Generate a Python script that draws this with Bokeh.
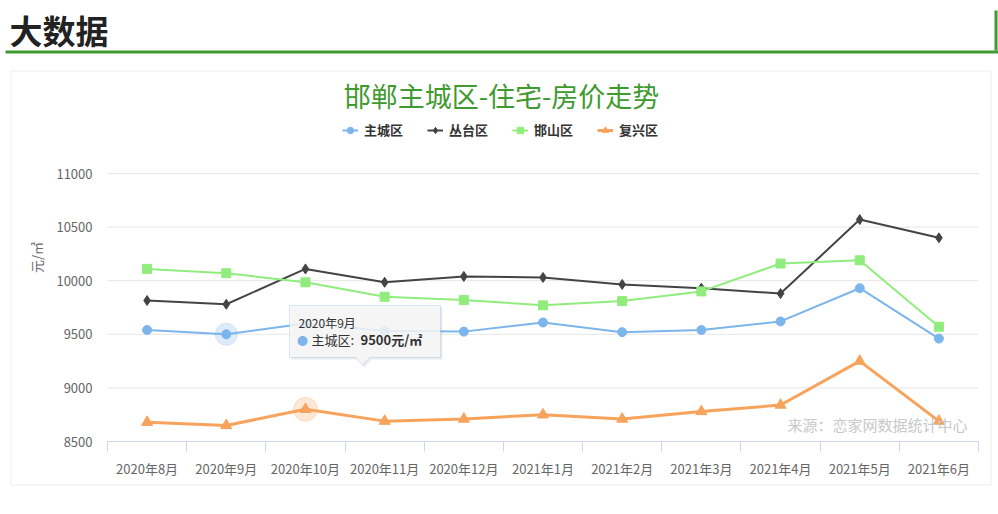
from bokeh.plotting import figure
from bokeh.models import (Range1d, FixedTicker, Label, Legend, LegendItem,
                          BoxAnnotation, PolyAnnotation)
from bokeh.embed import file_html
from bokeh.resources import INLINE

FONT = "Noto Sans CJK SC"

months = ["2020年8月", "2020年9月", "2020年10月", "2020年11月", "2020年12月",
          "2021年1月", "2021年2月", "2021年3月", "2021年4月", "2021年5月", "2021年6月"]
series_names = ["主城区", "丛台区", "邯山区", "复兴区"]
zhucheng = [9540, 9500, 9600, 9530, 9525, 9610, 9520, 9540, 9620, 9930, 9460]
congtai = [9815, 9780, 10110, 9985, 10040, 10030, 9965, 9930, 9880, 10570, 10400]
hanshan = [10110, 10070, 9985, 9850, 9820, 9770, 9810, 9900, 10160, 10190, 9570]
fuxing = [8680, 8650, 8800, 8690, 8710, 8750, 8710, 8780, 8840, 9250, 8690]
y_ticks = [8500, 9000, 9500, 10000, 10500, 11000]
title_text = "邯郸主城区-住宅-房价走势"
header_text = "大数据"
unit_text = "元/㎡"
source_text = "来源：恋家网数据统计中心"

W, H = 998, 514
PL, PR, PT, PB = 107, 978, 173, 441  # plot area edges in page pixels
n = len(months)
xpx = (PR - PL) / n
ypx = (PB - PT) / (y_ticks[-1] - y_ticks[0])

def sx(px):
    return px

def sy(py):
    return H - py

xs = [i + 0.5 for i in range(n)]

p = figure(width=W, height=H,
           x_range=Range1d(-PL / xpx, n + (W - PR) / xpx),
           y_range=Range1d(y_ticks[0] - (H - PB) / ypx, y_ticks[-1] + PT / ypx),
           output_backend="svg", toolbar_location=None,
           min_border_left=0, min_border_right=0, min_border_top=0, min_border_bottom=0)
p.outline_line_color = None
p.background_fill_color = "white"
p.border_fill_color = "white"

# axes (drawn at fixed locations inside the canvas)
xa = p.xaxis[0]
xa.fixed_location = y_ticks[0]
xa.bounds = (0, n)
xa.ticker = FixedTicker(ticks=xs, minor_ticks=list(range(n + 1)))
xa.major_label_overrides = {x: m for x, m in zip(xs, months)}
xa.axis_line_color = "#ccd6eb"
xa.major_tick_line_color = None
xa.major_tick_out = 0
xa.major_tick_in = 0
xa.minor_tick_line_color = "#ccd6eb"
xa.minor_tick_out = 10
xa.minor_tick_in = 0
xa.major_label_text_color = "#666666"
xa.major_label_text_font = FONT
xa.major_label_text_font_size = "13px"
xa.major_label_standoff = 7

ya = p.yaxis[0]
ya.fixed_location = 0
ya.ticker = FixedTicker(ticks=y_ticks)
ya.axis_line_color = None
ya.major_tick_line_color = None
ya.minor_tick_line_color = None
ya.major_tick_out = 0
ya.major_tick_in = 0
ya.major_label_standoff = 15
ya.major_label_text_color = "#666666"
ya.major_label_text_font = FONT
ya.major_label_text_font_size = "13px"
ya.axis_label = unit_text
ya.axis_label_text_font = FONT
ya.axis_label_text_font_style = "normal"
ya.axis_label_text_font_size = "13px"
ya.axis_label_text_color = "#666666"
ya.axis_label_standoff = 7

p.xgrid.grid_line_color = None
p.ygrid.grid_line_color = None
p.segment(x0=[0] * (len(y_ticks) - 1), x1=[n] * (len(y_ticks) - 1),
          y0=y_ticks[1:], y1=y_ticks[1:], line_color="#e6e6e6", line_width=1)

colors = ["#7cb5ec", "#434348", "#90ed7d", "#f7a35c"]

# hover halos
p.scatter([xs[1]], [zhucheng[1]], size=22, color=colors[0], alpha=0.25)
p.scatter([xs[2]], [fuxing[2]], size=24, color=colors[3], alpha=0.25)

items = []
specs = [
    (zhucheng, colors[0], 2, "circle", 9),
    (congtai, colors[1], 2, "diamond", 10),
    (hanshan, colors[2], 2, "square", 9),
    (fuxing, colors[3], 3, "triangle", 11),
]
for name, (vals, c, lw, marker, size) in zip(series_names, specs):
    lr = p.line(xs, vals, line_color=c, line_width=lw)
    sr = p.scatter(xs, vals, marker=marker, size=size, fill_color=c, line_color=c)
    items.append(LegendItem(label=name, renderers=[lr, sr]))

legend = Legend(items=items, location=(sx(342), sy(139)), orientation="horizontal",
                background_fill_alpha=0, border_line_color=None,
                label_text_font=FONT, label_text_font_style="bold",
                label_text_font_size="13px", label_text_color="#333333",
                glyph_width=16, glyph_height=16, label_standoff=6,
                spacing=24, padding=0, margin=0, label_height=18)
p.add_layout(legend)

# watermark
p.add_layout(Label(x=sx(967), y=sy(424), x_units="screen", y_units="screen",
                   text=source_text, text_align="right", text_baseline="middle",
                   text_font=FONT, text_font_size="15px", text_color="#c8c8c8"))

# header
green = "#3f9a30"
p.add_layout(Label(x=sx(9), y=sy(29), x_units="screen", y_units="screen",
                   text=header_text, text_align="left", text_baseline="middle",
                   text_font=FONT, text_font_size="33px", text_font_style="bold",
                   text_color="#222222"))
p.add_layout(BoxAnnotation(left=sx(5), right=sx(998), top=sy(50), bottom=sy(53),
                           left_units="screen", right_units="screen",
                           top_units="screen", bottom_units="screen",
                           fill_color=green, fill_alpha=1, line_color=None))
p.add_layout(BoxAnnotation(left=sx(994), right=sx(997), top=sy(10), bottom=sy(50),
                           left_units="screen", right_units="screen",
                           top_units="screen", bottom_units="screen",
                           fill_color=green, fill_alpha=1, line_color=None))
# chart border
p.add_layout(BoxAnnotation(left=sx(10.5), right=sx(990.5), top=sy(70.5), bottom=sy(484.5),
                           left_units="screen", right_units="screen",
                           top_units="screen", bottom_units="screen",
                           fill_alpha=0, line_color="#c8c8c8", line_width=1))
# title
p.add_layout(Label(x=sx(501), y=sy(95), x_units="screen", y_units="screen",
                   text=title_text, text_align="center", text_baseline="middle",
                   text_font=FONT, text_font_size="27px", text_color=green))

# tooltip (static)
tip_x = [289, 440, 440, 369, 362, 355, 289]
tip_y = [305, 305, 357, 357, 365, 357, 357]
p.add_layout(PolyAnnotation(xs=[sx(v + 2) for v in tip_x], ys=[sy(v + 2) for v in tip_y],
                            xs_units="screen", ys_units="screen",
                            fill_color="#000000", fill_alpha=0.08, line_color=None))
p.add_layout(PolyAnnotation(xs=[sx(v) for v in tip_x], ys=[sy(v) for v in tip_y],
                            xs_units="screen", ys_units="screen",
                            fill_color="#f7f7f7", fill_alpha=0.85,
                            line_color=colors[0], line_width=1))
p.add_layout(Label(x=sx(298), y=sy(322), x_units="screen", y_units="screen",
                   text=months[1], text_baseline="middle", text_font=FONT,
                   text_font_size="12px", text_color="#333333"))
p.add_layout(Label(x=sx(302), y=sy(339), x_units="screen", y_units="screen",
                   text="●", text_align="center", text_baseline="middle", text_font=FONT,
                   text_font_size="11px", text_color=colors[0]))
p.add_layout(Label(x=sx(311), y=sy(339), x_units="screen", y_units="screen",
                   text=series_names[0] + ": ", text_baseline="middle", text_font=FONT,
                   text_font_size="13px", text_color="#333333"))
p.add_layout(Label(x=sx(360), y=sy(339), x_units="screen", y_units="screen",
                   text=f"{zhucheng[1]}{unit_text}", text_baseline="middle", text_font=FONT,
                   text_font_size="13px", text_font_style="bold", text_color="#333333"))

open("out.html", "w").write(file_html(p, INLINE))
